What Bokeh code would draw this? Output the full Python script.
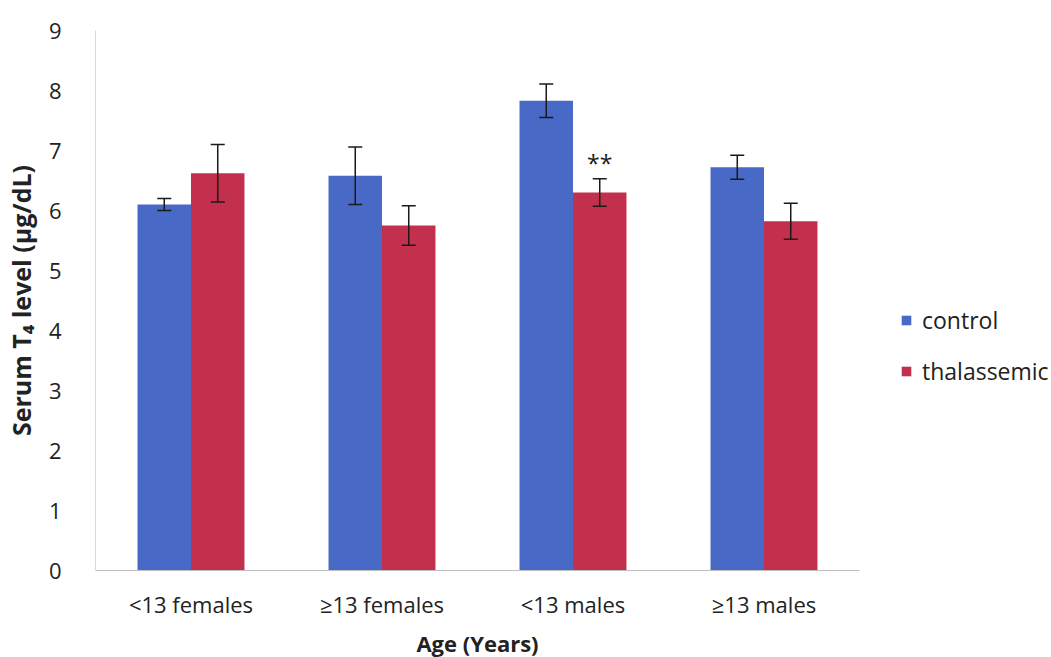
from bokeh.plotting import figure
from bokeh.models import ColumnDataSource, FactorRange, Whisker, Legend, LegendItem, Range1d
from bokeh.transform import dodge
from bokeh.embed import file_html
from bokeh.resources import INLINE
from bokeh.core.properties import value

categories = ["<13 females", "\u226513 females", "<13 males", "\u226513 males"]
control = [6.1, 6.58, 7.83, 6.72]
control_err = [0.1, 0.48, 0.28, 0.2]
thalassemic = [6.62, 5.75, 6.3, 5.82]
thalassemic_err = [0.48, 0.33, 0.23, 0.3]
series = ["control", "thalassemic"]
colors = ["#4869c6", "#c2304e"]
y_ticks = list(range(0, 10))

FONT = "Open Sans"

src = ColumnDataSource(dict(
    cat=categories,
    control=control,
    c_lo=[v - e for v, e in zip(control, control_err)],
    c_hi=[v + e for v, e in zip(control, control_err)],
    thal=thalassemic,
    t_lo=[v - e for v, e in zip(thalassemic, thalassemic_err)],
    t_hi=[v + e for v, e in zip(thalassemic, thalassemic_err)],
))

p = figure(x_range=FactorRange(*categories, range_padding=0), y_range=Range1d(0, 9),
           frame_width=764, frame_height=540, output_backend="svg", toolbar_location=None,
           min_border_left=92, min_border_right=0, min_border_top=30, min_border_bottom=87)

bw = 0.28
r1 = p.vbar(x=dodge("cat", -bw / 2, range=p.x_range), top="control", width=bw, source=src,
            fill_color=colors[0], line_color=None)
r2 = p.vbar(x=dodge("cat", bw / 2, range=p.x_range), top="thal", width=bw, source=src,
            fill_color=colors[1], line_color=None)

for lo, hi, off in [("c_lo", "c_hi", -bw / 2), ("t_lo", "t_hi", bw / 2)]:
    w = Whisker(base=dodge("cat", off, range=p.x_range), lower=lo, upper=hi, source=src,
                line_color="#1a1a1a", line_width=1.5, level="annotation")
    for h in (w.upper_head, w.lower_head):
        h.size = 14
        h.line_color = "#1a1a1a"
        h.line_width = 1.5
    p.add_layout(w)

# significance marker
p.text(x=[(categories[2], bw / 2)], y=[thalassemic[2] + thalassemic_err[2] + 0.27], text=["**"],
       text_font=value(FONT), text_font_size="23px", text_align="center",
       text_baseline="middle", text_color="#1a1a1a")

p.xgrid.visible = False
p.ygrid.visible = False
p.outline_line_color = None

p.yaxis.ticker = y_ticks
p.yaxis.axis_line_color = "#d9d9d9"
p.yaxis.major_tick_line_color = None
p.yaxis.minor_tick_line_color = None
p.yaxis.major_label_standoff = 28
p.yaxis.major_label_text_font = FONT
p.yaxis.major_label_text_font_size = "22px"
p.yaxis.major_label_text_color = "#222222"
p.yaxis.axis_label = "Serum T\u2084 level (\u03bcg/dL)"
p.yaxis.axis_label_text_font = FONT
p.yaxis.axis_label_text_font_style = "bold"
p.yaxis.axis_label_text_font_size = "25px"
p.yaxis.axis_label_text_color = "#222222"
p.yaxis.axis_label_standoff = 8

p.xaxis.axis_line_color = "#bfbfbf"
p.xaxis.major_tick_line_color = None
p.xaxis.minor_tick_line_color = None
p.xaxis.major_label_standoff = 12
p.xaxis.major_label_text_font = FONT
p.xaxis.major_label_text_font_size = "22px"
p.xaxis.major_label_text_color = "#222222"
p.xaxis.axis_label = "Age (Years)"
p.xaxis.axis_label_text_font = FONT
p.xaxis.axis_label_text_font_style = "bold"
p.xaxis.axis_label_text_font_size = "22px"
p.xaxis.axis_label_text_color = "#222222"
p.xaxis.axis_label_standoff = 6

legend = Legend(items=[LegendItem(label=series[0], renderers=[r1]),
                       LegendItem(label=series[1], renderers=[r2])],
                location=(41, 183), border_line_color=None, background_fill_alpha=0,
                label_text_font=FONT, label_text_font_size="23px", label_text_color="#222222",
                glyph_width=12, glyph_height=12, spacing=19, padding=0, margin=0,
                label_standoff=10)
p.add_layout(legend, "right")

open("out.html", "w").write(file_html(p, INLINE))
